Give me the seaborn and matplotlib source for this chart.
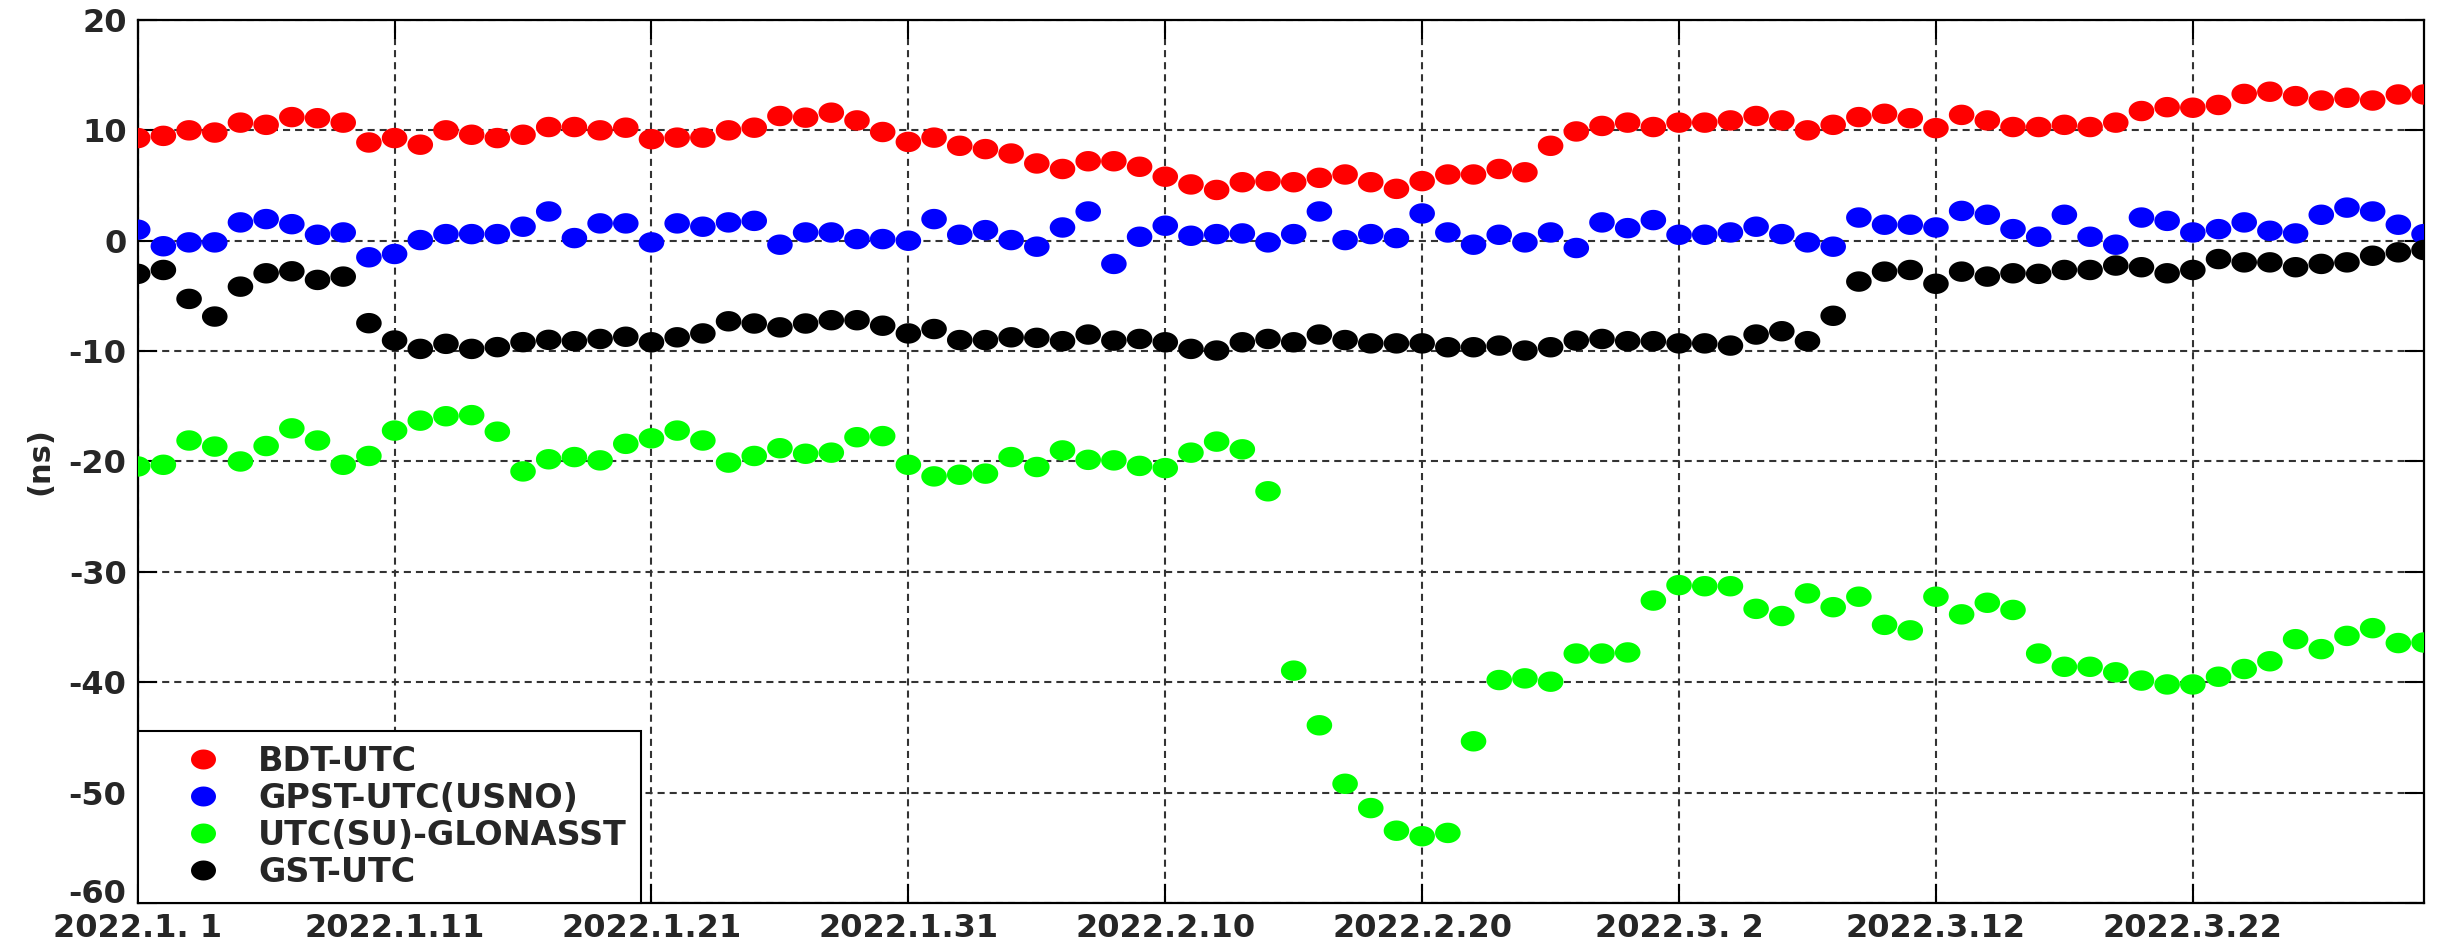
import numpy as np
import pandas as pd
import matplotlib
matplotlib.use("Agg")
import matplotlib.pyplot as plt
import seaborn as sns
from matplotlib.path import Path
from matplotlib.lines import Line2D

# ---------------- data ----------------
dates = pd.date_range("2022-01-01", "2022-03-31", freq="D")

bdt_utc = [9.3, 9.5, 10.0, 9.8, 10.7, 10.5, 11.2, 11.1, 10.7, 8.9, 9.3, 8.7, 10.0, 9.6, 9.3, 9.6, 10.3, 10.3, 10.0,
           10.24, 9.2, 9.34, 9.34, 10.0, 10.24, 11.3, 11.15, 11.6, 10.9, 9.85, 8.95, 9.34, 8.6, 8.3, 7.9, 7.0, 6.5, 7.2,
           7.2, 6.7, 5.8, 5.1, 4.6,
           5.3, 5.4, 5.3, 5.7, 6.0, 5.3, 4.7, 5.4, 6.0, 6.0, 6.5, 6.2, 8.6, 9.9, 10.4, 10.7, 10.3, 10.7, 10.7, 10.9,
           11.3, 10.9, 10.0,
           10.5, 11.2, 11.5, 11.1, 10.2, 11.4, 10.9, 10.3, 10.3, 10.5, 10.3, 10.7, 11.75, 12.1, 12.05, 12.3, 13.3,
           13.5, 13.1, 12.7, 12.95, 12.7, 13.25, 13.25]

gpst_utc = [1.0, -0.5, -0.15, -0.15, 1.66, 1.96, 1.5, 0.54, 0.75, -1.5, -1.2, 0.06, 0.6, 0.6, 0.6, 1.27, 2.65, 0.24, 1.57,
            1.57, -0.15, 1.57, 1.27, 1.66, 1.8, -0.36, 0.75, 0.75, 0.15, 0.15, 0.0, 1.96, 0.54, 0.96, 0.06, -0.54, 1.2,
            2.65, -2.1, 0.36, 1.36, 0.45, 0.6,
            0.66, -0.15, 0.6, 2.65, 0.06, 0.6, 0.24, 2.47, 0.75, -0.36, 0.54, -0.15, 0.75, -0.66, 1.66, 1.14, 1.87,
            0.54, 0.54, 0.75, 1.27, 0.6, -0.15,
            -0.54, 2.1, 1.45, 1.45, 1.2, 2.7, 2.35, 1.05, 0.36, 2.35, 0.36, -0.36, 2.1, 1.8, 0.75, 1.05, 1.66, 0.9,
            0.66, 2.35, 3.0, 2.65, 1.45, 0.6]

glonass_utc = [-20.45, -20.3, -18.1, -18.65, -20.0, -18.6, -17.0, -18.1, -20.3, -19.5, -17.2, -16.3, -15.9, -15.8,
               -17.3, -20.9, -19.8, -19.6, -19.9,
               -18.4, -17.9, -17.2, -18.1, -20.1, -19.5, -18.8, -19.3, -19.2, -17.8, -17.7, -20.3, -21.35, -21.2,
               -21.1, -19.6, -20.5, -19.0, -19.85, -19.9, -20.4, -20.6, -19.2, -18.2,
               -18.9, -22.7, -38.95, -43.9, -49.2, -51.4, -53.45, -53.95, -53.65, -45.35, -39.8, -39.65, -39.95,
               -37.4, -37.4, -37.3, -32.6, -31.2, -31.3, -31.3, -33.35, -34.0, -31.95,
               -33.2, -32.25, -34.8, -35.3, -32.25, -33.85, -32.8, -33.45, -37.4, -38.6, -38.6, -39.1, -39.85,
               -40.2, -40.2, -39.5, -38.8, -38.1, -36.1, -37.0, -35.8, -35.1, -36.45, -36.4]

gst_utc = [-3.0, -2.65, -5.27, -6.87, -4.16, -2.95, -2.77, -3.55, -3.25, -7.47, -9.04, -9.8, -9.34, -9.8, -9.64,
           -9.19, -8.98, -9.1, -8.9,
           -8.7, -9.2, -8.75, -8.4, -7.3, -7.5, -7.85, -7.5, -7.2, -7.2, -7.7, -8.4, -8.0, -9.0, -9.0, -8.75, -8.8,
           -9.1, -8.5, -9.05, -8.9, -9.2, -9.8, -9.95,
           -9.2, -8.9, -9.2, -8.5, -9.0, -9.3, -9.3, -9.3, -9.65, -9.65, -9.5, -9.95, -9.65, -9.05, -8.9, -9.1,
           -9.1, -9.3, -9.3, -9.5, -8.5, -8.2, -9.1,
           -6.8, -3.7, -2.8, -2.65, -3.9, -2.8, -3.25, -2.95, -3.0, -2.65, -2.65, -2.25, -2.4, -2.95, -2.65, -1.66,
           -1.96, -1.96, -2.4, -2.1, -1.96, -1.36, -1.05, -0.84]

series_names = ["BDT-UTC", "GPST-UTC(USNO)", "UTC(SU)-GLONASST", "GST-UTC"]
series_values = [bdt_utc, gpst_utc, glonass_utc, gst_utc]
series_colors = ["#ff0000", "#0000ff", "#00ff00", "#000000"]

xtick_dates = ["2022-01-01", "2022-01-11", "2022-01-21", "2022-01-31", "2022-02-10",
               "2022-02-20", "2022-03-02", "2022-03-12", "2022-03-22"]
xtick_labels = ["2022.1. 1", "2022.1.11", "2022.1.21", "2022.1.31", "2022.2.10",
                "2022.2.20", "2022.3. 2", "2022.3.12", "2022.3.22"]
ytick_values = [20, 10, 0, -10, -20, -30, -40, -50, -60]
y_label = "(ns)"

# ---------------- styling ----------------
sns.set_style("white")
plt.rcParams["font.family"] = ["DejaVu Sans"]
plt.rcParams["axes.unicode_minus"] = False

frames = []
for name, vals in zip(series_names, series_values):
    frames.append(pd.DataFrame({"date": dates, "value": vals, "series": name}))
df = pd.concat(frames, ignore_index=True)

# slightly wide elliptical marker (as in the reference)
theta = np.linspace(0, 2 * np.pi, 41)
ellipse = Path(np.column_stack([0.5 * np.cos(theta), 0.4 * np.sin(theta)]), closed=True)

fig = plt.figure(figsize=(24.5, 9.42), dpi=100)
ax = fig.add_axes([0.0562, 0.0414, 0.9332, 0.9374])

ax.grid(True, color="#333333", linestyle=(0, (3.4, 2.4)), linewidth=1.5)
ax.set_axisbelow(True)

sns.scatterplot(data=df, x="date", y="value", hue="series", hue_order=series_names,
                palette=dict(zip(series_names, series_colors)), marker=ellipse, s=340,
                linewidth=0, legend=False, ax=ax, zorder=3)

ax.set_xlim(pd.Timestamp("2022-01-01"), pd.Timestamp("2022-03-31"))
ax.set_ylim(-60, 20)
ax.set_xticks([pd.Timestamp(d) for d in xtick_dates])
ax.set_xticklabels(xtick_labels)
ax.set_yticks(ytick_values)
ax.set_yticklabels([str(v) for v in ytick_values])
ax.set_xlabel("")
ax.set_ylabel(y_label, fontsize=22, fontweight="bold", labelpad=10)

for lab in ax.get_xticklabels() + ax.get_yticklabels():
    lab.set_fontweight("bold")
    lab.set_fontsize(23)

ax.tick_params(axis="x", direction="in", length=14, width=1.5, color="black",
               top=True, bottom=True, pad=7)
ax.tick_params(axis="y", direction="in", length=14, width=1.5, color="black",
               left=True, right=True, pad=8)
for sp in ax.spines.values():
    sp.set_visible(True)
    sp.set_color("black")
    sp.set_linewidth(1.6)

# the lowest y label sits just above the bottom edge, as in the reference
ax.get_yticklabels()[-1].set_verticalalignment("baseline")

handles = [Line2D([], [], linestyle="none", marker=ellipse, markersize=18,
                  markerfacecolor=c, markeredgecolor=c, markeredgewidth=0)
           for c in series_colors]
leg = ax.legend(handles, series_names, loc="lower left", bbox_to_anchor=(0, 0),
                borderaxespad=0, frameon=True, fancybox=False, framealpha=1,
                edgecolor="black", prop={"weight": "bold", "size": 24},
                handlelength=3.08, handletextpad=0.11, borderpad=0.42, labelspacing=0.12)
leg.get_frame().set_linewidth(1.5)
leg.set_zorder(5)

fig.savefig("out.png", dpi=100)
